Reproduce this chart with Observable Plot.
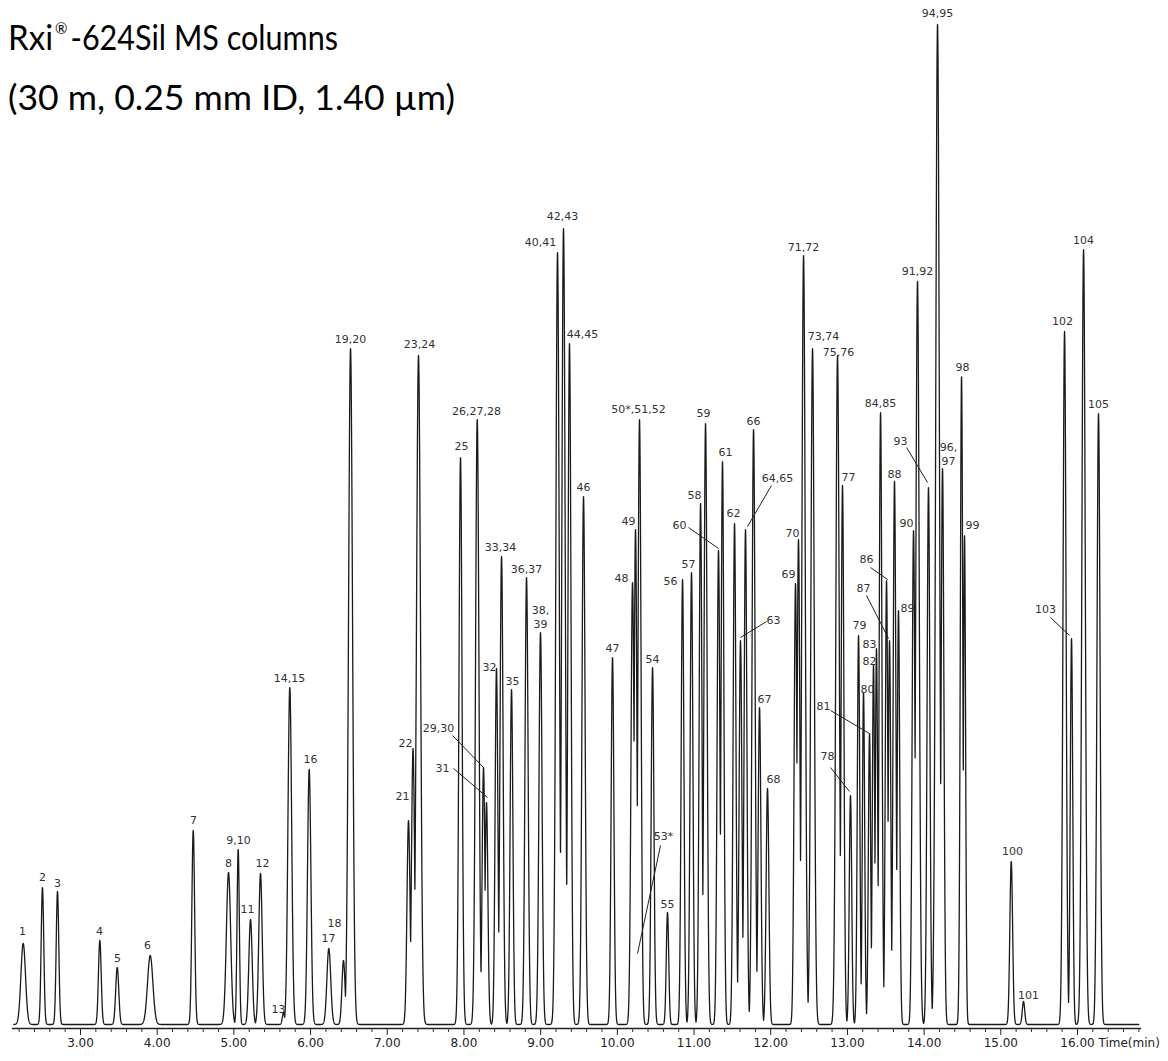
<!DOCTYPE html>
<html><head><meta charset="utf-8">
<script src="https://cdn.jsdelivr.net/npm/d3@7"></script>
<script src="https://cdn.jsdelivr.net/npm/@observablehq/plot@0.6"></script>
<style>
html,body{margin:0;padding:0;background:#fff;}
#chart{position:relative;width:1168px;height:1061px;}
</style></head><body><div id="chart"></div>
<script>
// ---- Peak table (retention time in min, apex abundance in % of largest peak, sigma in min) ----
const peakLabels = ["1","2","3","4","5","6","7","8","9,10","11","12","13","14,15","16","17","18","19,20",
  "21","22","23,24","25","26,27,28","29,30","31","32","33,34","35","36,37","38,\n39","40,41","42,43","44,45",
  "46","47","48","49","50*,51,52","53*","54","55","56","57","58","59","60","61","62","63","64,65","66",
  "67","68","69","70","71,72","73,74","75,76","77","78","79","80","81","82","83","84,85","86","87","88",
  "89","90","91,92","93","94,95","96,\n97","98","99","100","101","102","103","104","105"];
const peakTimes = [2.253,2.504,2.700,3.252,3.479,3.909,4.470,4.930,5.056,5.217,5.347,5.647,5.729,5.982,6.238,6.429,6.521,
  7.277,7.336,7.407,7.955,8.173,8.255,8.294,8.424,8.490,8.620,8.816,8.998,9.220,9.298,9.376,
  9.559,9.937,10.198,10.237,10.289,10.263,10.459,10.654,10.850,10.967,11.085,11.150,11.319,11.371,11.528,11.606,11.671,11.776,
  11.854,11.958,12.323,12.362,12.428,12.545,12.871,12.936,13.040,13.145,13.210,13.288,13.340,13.379,13.432,13.510,13.549,13.614,
  13.666,13.862,13.914,14.057,14.175,14.240,14.488,14.527,15.136,15.296,15.831,15.922,16.079,16.274];
const peakHeights = [8.1,13.7,13.3,8.4,5.7,6.9,19.4,15.2,17.5,10.5,15.1,1.2,33.7,25.5,7.6,6.4,67.6,
  20.4,27.6,66.9,56.7,60.5,25.7,22.2,35.6,46.8,33.5,44.7,39.2,77.2,79.6,68.1,
  52.8,36.7,44.2,49.5,60.5,7.1,35.7,11.2,44.5,45.2,52.1,60.1,47.4,56.3,50.1,38.4,49.5,59.5,
  31.7,23.6,44.1,48.5,76.9,67.6,66.9,53.9,22.9,38.9,33.2,29.1,36.0,37.6,61.2,44.4,38.4,54.3,
  41.4,49.4,74.3,53.7,100,55.6,64.8,48.9,16.3,2.3,69.3,38.6,77.5,61.1];
const peakWidths = [0.03,0.017,0.017,0.018,0.02,0.035,0.018,0.028,0.015,0.022,0.022,0.015,0.024,0.022,0.025,0.02,0.026,
  0.02,0.02,0.026,0.02,0.022,0.018,0.018,0.018,0.02,0.018,0.02,0.02,0.022,0.022,0.02,
  0.02,0.018,0.02,0.018,0.02,0.015,0.018,0.016,0.018,0.018,0.018,0.02,0.018,0.018,0.018,0.018,0.018,0.02,
  0.018,0.018,0.018,0.018,0.022,0.022,0.022,0.018,0.016,0.016,0.015,0.015,0.015,0.015,0.018,0.016,0.016,0.018,
  0.016,0.018,0.022,0.018,0.024,0.018,0.016,0.014,0.018,0.016,0.02,0.016,0.022,0.02];
// where each peak's label sits (time, abundance)
const labelTimes = [2.244,2.504,2.700,3.248,3.482,3.874,4.473,4.930,5.060,5.178,5.373,5.582,5.725,5.999,6.234,6.312,6.521,
  7.199,7.238,7.420,7.968,8.164,7.668,7.720,8.333,8.477,8.633,8.816,8.998,8.998,9.285,9.546,
  9.559,9.937,10.054,10.146,10.276,10.602,10.459,10.654,10.693,10.928,11.006,11.124,10.811,11.411,11.515,12.036,12.088,11.776,
  11.919,12.036,12.232,12.284,12.428,12.688,12.884,13.014,12.741,13.158,13.262,12.688,13.288,13.288,13.432,13.249,13.210,13.614,
  13.784,13.771,13.914,13.692,14.175,14.318,14.501,14.631,15.153,15.361,15.805,15.583,16.079,16.274];
const labelLevels = [9.4,14.8,14.2,9.4,6.7,8.0,20.5,16.2,18.5,11.6,16.2,1.6,34.7,26.6,8.7,10.2,68.6,
  22.9,28.2,68.1,57.9,61.4,29.7,25.7,35.8,47.8,34.4,45.6,40.8,78.3,80.9,69.1,
  53.8,37.7,44.7,50.4,61.6,18.9,36.6,12.1,44.4,46.1,53.0,61.2,50.0,57.3,51.2,40.5,54.7,60.4,
  32.6,24.6,45.1,49.2,77.8,68.9,67.3,54.8,26.9,40.0,33.6,31.9,36.4,38.1,62.2,46.6,43.7,55.1,
  41.7,50.2,75.4,58.4,101.2,57.1,65.8,50.0,17.4,3.0,70.4,41.6,78.5,62.1];
// leader lines from a label to its peak
const leaderFor   = ["29,30","31","53*","60","63","64,65","78","81","86","87","93","103"];
const leaderFromT = [7.851,7.864,10.563,10.928,11.945,12.010,12.780,12.780,13.301,13.249,13.771,15.648];
const leaderFromH = [28.9,25.6,17.9,49.7,40.3,53.9,25.7,31.4,45.7,42.9,57.7,40.7];
const leaderToT   = [8.255,8.307,10.263,11.319,11.606,11.697,13.027,13.288,13.523,13.536,14.045,15.896];
const leaderToH   = [25.7,22.7,7.1,47.6,38.7,49.8,23.3,29.1,44.5,38.6,54.2,38.9];
// axis ticks
const majorTicks = [3,4,5,6,7,8,9,10,11,12,13,14,15,16];
const minorTicks = d3.range(2.2, 16.81, 0.2).filter(t => Math.abs(t - Math.round(t)) > 0.05);
const timeDomain = [2.1133, 16.8215];

const peaks = peakTimes.map((t, i) => ({label: peakLabels[i], t, h: peakHeights[i], w: peakWidths[i]}));
const labels = peakLabels.map((l, i) => ({label: l, t: labelTimes[i], h: labelLevels[i]}));
const leaders = leaderFor.map((l, i) => ({label: l, t1: leaderFromT[i], h1: leaderFromH[i], t2: leaderToT[i], h2: leaderToH[i]}));

// detector trace rendered from the peak table
const trace = d3.range(2.13, 16.80, 0.0015).map(t => ({
  t, v: d3.max(peaks, p => p.h * Math.exp(-((t - p.t) ** 2) / (2 * p.w * p.w)))
}));

const chart = Plot.plot({
  width: 1168, height: 1061,
  marginLeft: 12, marginRight: 28, marginTop: 24, marginBottom: 33,
  style: {fontFamily: "'DejaVu Sans', sans-serif", fontSize: "12px", color: "#222", background: "#fff"},
  x: {domain: timeDomain},
  y: {domain: [-0.4, 100], axis: null},
  marks: [
    Plot.frame({anchor: "bottom", stroke: "#222", strokeWidth: 1.3}),
    Plot.axisX({ticks: minorTicks, tickSize: 4, tickFormat: () => "", label: null, stroke: "#333"}),
    Plot.axisX({ticks: majorTicks, tickSize: 7, tickPadding: 3, tickFormat: d => d.toFixed(2), label: null,
      stroke: "#222", fill: "#222", fontSize: 12}),
    Plot.text(["Time(min)"], {x: () => majorTicks[majorTicks.length - 1], frameAnchor: "bottom", dx: 21, dy: 10,
      textAnchor: "start", lineAnchor: "top", fill: "#222", fontSize: 12}),
    Plot.line(trace, {x: "t", y: "v", stroke: "#1a1a1a", strokeWidth: 1.3}),
    Plot.link(leaders, {x1: "t1", y1: "h1", x2: "t2", y2: "h2", stroke: "#222", strokeWidth: 1}),
    Plot.text(labels, {x: "t", y: "h", text: "label", fill: "#333", lineHeight: 1.25, fontSize: 11})
  ]
});
document.getElementById("chart").appendChild(chart);

// Title (two lines, Calibri-like proportions)
const svg = d3.select(chart);
const g = svg.append("g").attr("font-family", "Lato, 'Open Sans', sans-serif").attr("fill", "#000")
  .attr("text-anchor", "start");
const t2 = g.append("text").attr("x", 8).attr("y", 110).attr("font-size", 36).text("(30 m, 0.25 mm ID, 1.40 µm)");
const fs = 36 * 447 / t2.node().getComputedTextLength();
t2.attr("font-size", fs);
const a = g.append("text").attr("x", 8).attr("y", 50).attr("font-size", fs).text("Rxi");
const aw = a.node().getComputedTextLength() * 0.93;
a.attr("textLength", aw).attr("lengthAdjust", "spacingAndGlyphs");
const r = g.append("text").attr("x", 8 + aw + 2).attr("y", 50 - fs * 0.45).attr("font-size", fs * 0.42).text("®");
const rw = r.node().getComputedTextLength();
const cx = 8 + aw + rw + 5;
const c = g.append("text").attr("x", cx).attr("y", 50).attr("font-size", fs).text("-624Sil MS columns");
const cTarget = 338 - cx;
if (c.node().getComputedTextLength() > cTarget) c.attr("textLength", cTarget).attr("lengthAdjust", "spacingAndGlyphs");
</script>
</body></html>
